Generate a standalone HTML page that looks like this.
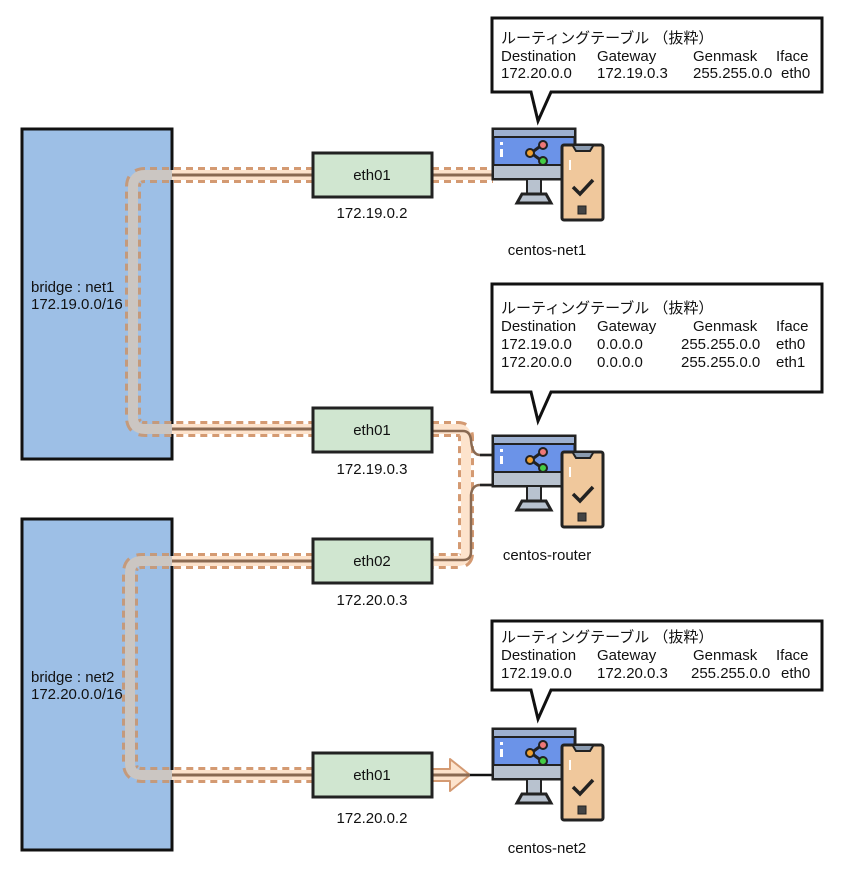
<!DOCTYPE html>
<html><head><meta charset="utf-8"><style>
html,body{margin:0;padding:0;background:#fff;}
svg{display:block;}
text{font-family:"Liberation Sans","Noto Sans CJK JP",sans-serif;fill:#111;}
</style></head><body>
<svg width="846" height="877" viewBox="0 0 846 877" xmlns="http://www.w3.org/2000/svg">
<defs>
<clipPath id="inb"><rect x="22" y="128" width="150" height="332"/><rect x="22" y="519" width="150" height="332"/></clipPath>
<clipPath id="outb"><path d="M0 0H846V877H0Z M22 128V460H172V128Z M22 519V851H172V519Z" clip-rule="evenodd"/></clipPath>
<g id="icon">
 <rect x="493" y="129" width="82" height="50" fill="#6b93e8" stroke="#222" stroke-width="3"/>
 <rect x="494" y="130" width="80" height="7" fill="#9db0d0"/>
 <line x1="493" y1="137" x2="575" y2="137" stroke="#222" stroke-width="2"/>
 <rect x="494" y="165" width="80" height="13" fill="#b8c2cf"/>
 <line x1="493" y1="165" x2="575" y2="165" stroke="#222" stroke-width="2"/>
 <rect x="500" y="142" width="3" height="3" fill="#fff"/><rect x="500" y="149" width="3" height="8" fill="#fff"/>
 <polyline points="542,145 531,153 542,161" fill="none" stroke="#222" stroke-width="3"/>
 <circle cx="543" cy="145" r="4" fill="#e77" stroke="#222" stroke-width="2"/>
 <circle cx="530" cy="153" r="4" fill="#f0a030" stroke="#222" stroke-width="2"/>
 <circle cx="543" cy="161" r="4" fill="#4c4" stroke="#222" stroke-width="2"/>
 <rect x="527" y="179" width="14" height="15" fill="#b8c2cf" stroke="#222" stroke-width="2"/>
 <path d="M517 203 L522 194 H546 L551 203Z" fill="#b8c2cf" stroke="#222" stroke-width="3"/>
 <rect x="562" y="145" width="41" height="75" rx="2" fill="#f0c89c" stroke="#222" stroke-width="3"/>
 <path d="M573 146 L576 151 H590 L593 146" fill="#8a9bb0" stroke="#222" stroke-width="2"/>
 <polyline points="573,187 580,194 593,180" fill="none" stroke="#222" stroke-width="3.5"/>
 <rect x="578" y="206" width="8" height="8" fill="#444" stroke="#222"/>
 <rect x="569" y="160" width="2" height="10" fill="#fff"/>
</g>
</defs>

<rect x="22" y="129" width="150" height="330" fill="#9dbfe6" stroke="#111" stroke-width="3"/>
<rect x="22" y="519" width="150" height="331" fill="#9dbfe6" stroke="#111" stroke-width="3"/>
<text x="31" y="292" font-size="15">bridge : net1</text>
<text x="31" y="309" font-size="15">172.19.0.0/16</text>
<text x="31" y="682" font-size="15">bridge : net2</text>
<text x="31" y="699" font-size="15">172.20.0.0/16</text>

<g fill="none" stroke-linejoin="round">
 <path id="p1" d="M313 175 H145 Q133 175 133 187 V417 Q133 429 145 429 H313"/>
 <path id="p2" d="M313 561 H142 Q130 561 130 573 V763 Q130 775 142 775 H313"/>
 <g clip-path="url(#outb)">
  <use href="#p1" stroke="#d49a72" stroke-width="16" stroke-dasharray="7 5"/>
  <use href="#p1" stroke="#fde3cc" stroke-width="10"/>
  <use href="#p2" stroke="#d49a72" stroke-width="16" stroke-dasharray="7 5"/>
  <use href="#p2" stroke="#fde3cc" stroke-width="10"/>
 </g>
 <g clip-path="url(#inb)">
  <use href="#p1" stroke="#c49a7c" stroke-width="16" stroke-dasharray="7 5"/>
  <use href="#p1" stroke="#cbc6c2" stroke-width="10"/>
  <use href="#p2" stroke="#c49a7c" stroke-width="16" stroke-dasharray="7 5"/>
  <use href="#p2" stroke="#cbc6c2" stroke-width="10"/>
 </g>
 <line x1="172" y1="175" x2="313" y2="175" stroke="#8a6a52" stroke-width="3"/>
 <line x1="172" y1="429" x2="313" y2="429" stroke="#8a6a52" stroke-width="3"/>
 <line x1="172" y1="561" x2="313" y2="561" stroke="#8a6a52" stroke-width="3"/>
 <line x1="172" y1="775" x2="313" y2="775" stroke="#8a6a52" stroke-width="3"/>
 <line x1="432" y1="175" x2="493" y2="175" stroke="#d49a72" stroke-width="16" stroke-dasharray="7 5"/>
 <line x1="432" y1="175" x2="493" y2="175" stroke="#fde3cc" stroke-width="10"/>
 <line x1="432" y1="175" x2="493" y2="175" stroke="#8a6a52" stroke-width="3"/>
 <path d="M432 429 H458 Q466 429 466 437 V553 Q466 561 458 561 H432" stroke="#d49a72" stroke-width="16" stroke-dasharray="7 5"/>
 <path d="M432 429 H458 Q466 429 466 437 V553 Q466 561 458 561 H432" stroke="#fde3cc" stroke-width="10"/>
 <path d="M432 431 H463 Q470 431 471 440 Q472 455 480 455 H493" stroke="#8a6a52" stroke-width="2.5"/>
 <path d="M493 485 H480 Q472 485 471 495 V552 Q471 560 463 560 H432" stroke="#8a6a52" stroke-width="2.5"/>
 <line x1="480" y1="455" x2="493" y2="455" stroke="#222" stroke-width="2.5"/>
 <line x1="480" y1="485" x2="493" y2="485" stroke="#222" stroke-width="2.5"/>
 <path d="M432 769 H450 V759 L470 775 L450 791 V781 H432Z" fill="#fde3cc" stroke="#d49a72" stroke-width="2"/>
 <line x1="432" y1="775" x2="470" y2="775" stroke="#8a6a52" stroke-width="3"/>
 <line x1="470" y1="775" x2="493" y2="775" stroke="#111" stroke-width="2.5"/>
</g>

<g fill="#d0e6d0" stroke="#222" stroke-width="3">
 <rect x="313" y="153" width="119" height="44"/>
 <rect x="313" y="408" width="119" height="44"/>
 <rect x="313" y="539" width="119" height="44"/>
 <rect x="313" y="753" width="119" height="44"/>
</g>
<g font-size="15" text-anchor="middle">
 <text x="372" y="180">eth01</text>
 <text x="372" y="435">eth01</text>
 <text x="372" y="566">eth02</text>
 <text x="372" y="780">eth01</text>
 <text x="372" y="218">172.19.0.2</text>
 <text x="372" y="474">172.19.0.3</text>
 <text x="372" y="605">172.20.0.3</text>
 <text x="372" y="823">172.20.0.2</text>
 <text x="547" y="255">centos-net1</text>
 <text x="547" y="560">centos-router</text>
 <text x="547" y="853">centos-net2</text>
</g>

<use href="#icon"/>
<use href="#icon" y="307"/>
<use href="#icon" y="600"/>

<g fill="#fff" stroke="#111" stroke-width="3" stroke-linejoin="miter">
 <path d="M492 18 H822 V92 H551 L538 121 L531 92 H492Z"/>
 <path d="M492 284 H822 V392 H551 L538 421 L531 392 H492Z"/>
 <path d="M492 621 H822 V690 H551 L538 719 L531 690 H492Z"/>
</g>
<g font-size="15">
 <text x="501" y="43">ルーティングテーブル （抜粋）</text>
 <text x="501" y="61">Destination</text><text x="597" y="61">Gateway</text><text x="693" y="61">Genmask</text><text x="776" y="61">Iface</text>
 <text x="501" y="78">172.20.0.0</text><text x="597" y="78">172.19.0.3</text><text x="693" y="78">255.255.0.0</text><text x="781" y="78">eth0</text>

 <text x="501" y="313">ルーティングテーブル （抜粋）</text>
 <text x="501" y="331">Destination</text><text x="597" y="331">Gateway</text><text x="693" y="331">Genmask</text><text x="776" y="331">Iface</text>
 <text x="501" y="349">172.19.0.0</text><text x="597" y="349">0.0.0.0</text><text x="681" y="349">255.255.0.0</text><text x="776" y="349">eth0</text>
 <text x="501" y="367">172.20.0.0</text><text x="597" y="367">0.0.0.0</text><text x="681" y="367">255.255.0.0</text><text x="776" y="367">eth1</text>

 <text x="501" y="642">ルーティングテーブル （抜粋）</text>
 <text x="501" y="660">Destination</text><text x="597" y="660">Gateway</text><text x="693" y="660">Genmask</text><text x="776" y="660">Iface</text>
 <text x="501" y="678">172.19.0.0</text><text x="597" y="678">172.20.0.3</text><text x="691" y="678">255.255.0.0</text><text x="781" y="678">eth0</text>
</g>
</svg>
</body></html>
